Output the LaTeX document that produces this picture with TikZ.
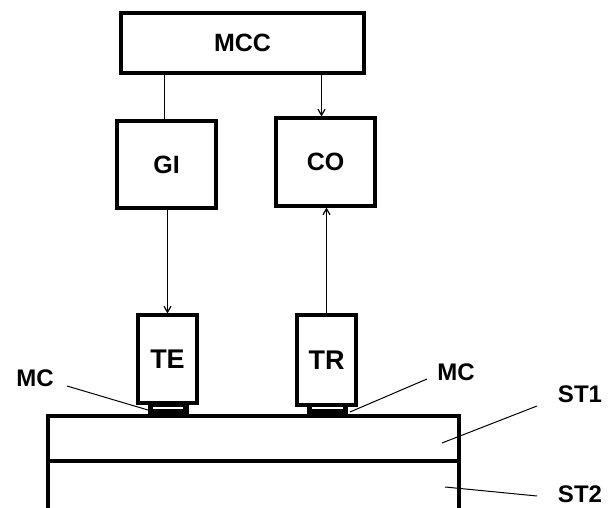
\documentclass[tikz,border=0pt]{standalone}
\usepackage{fontspec}
\setmainfont{Liberation Sans}
\usetikzlibrary{arrows.meta,calc}
\begin{document}
\begin{tikzpicture}[x=1pt,y=-1pt,
  box/.style={draw,line width=3.2pt,inner sep=0pt,font=\fontsize{25}{25}\selectfont\bfseries},
  pad/.style={draw,fill=black,line width=0.5pt,inner sep=0pt,minimum width=40pt,minimum height=12pt},
  conn/.style={line width=1.2pt},
  arr/.style={conn,-{Straight Barb[length=6pt,width=7pt,line width=1.2pt]}},
  lead/.style={line width=1pt},
  lbl/.style={inner sep=0pt,font=\fontsize{24}{24}\selectfont\bfseries},
  wall/.style={line width=3.2pt}]
\useasboundingbox (0,0) rectangle (614,508);
\fill[white] (0,0) rectangle (614,508);
% substrate
\coordinate (S1) at (48,416);
\coordinate (S2) at (459,416);
\coordinate (S3) at (48,508);
\coordinate (S4) at (459,508);
\coordinate (D1) at (48,461);
\coordinate (D2) at (459,461);
\draw[wall,line join=miter] (S3) -- (S1) -- (S2) -- (S4);
\draw[wall] (D1) -- (D2);
% boxes
\node[box,minimum width=243pt,minimum height=60pt] (MCC) at (242.5,43) {MCC};
\node[box,minimum width=99pt,minimum height=87pt] (GI) at (166.5,164.5) {GI};
\node[box,minimum width=99pt,minimum height=88pt] (CO) at (325.5,162) {CO};
\node[box,minimum width=59pt,minimum height=88pt,font=\fontsize{27}{27}\selectfont\bfseries] (TE) at (167.5,359) {TE};
\node[box,minimum width=59pt,minimum height=90pt,font=\fontsize{27}{27}\selectfont\bfseries] (TR) at (326.5,360) {TR};
% pads
\node[pad] (TEpad) at (168,409.5) {};
\node[pad] (TRpad) at (327.5,409.5) {};
\draw[white,line width=1.2pt] ($(TEpad.west)+(5,-1.5)$) -- ($(TEpad.east)+(-5,-1.5)$);
\draw[white,line width=1.2pt] ($(TRpad.west)+(5,-1.5)$) -- ($(TRpad.east)+(-5,-1.5)$);
% connectors
\draw[conn] ($(GI.north |- MCC.south)+(-2,0)$) -- ($(GI.north)+(-2,0)$);
\draw[arr] ($(CO.north |- MCC.south)+(-4,0)$) -- ($(CO.north)+(-4,0)$);
\draw[arr] (TE.north |- GI.south) -- (TE.north);
\draw[arr] (TR.north) -- (TR.north |- CO.south);
% labels
\node[lbl] (MCl) at (35,378) {MC};
\node[lbl] (MCr) at (456,372) {MC};
\node[lbl] (ST1) at (580,394) {ST1};
\node[lbl] (ST2) at (580,494) {ST2};
\coordinate (pMCl) at (148,410);
\coordinate (pMCr) at (350,412);
\coordinate (pST1) at (442,443);
\coordinate (pST2) at (445,487);
\draw[lead] (67,386) -- (pMCl);
\draw[lead] (427,379) -- (pMCr);
\draw[lead] (537,406) -- (pST1);
\draw[lead] (537,496) -- (pST2);
\end{tikzpicture}
\end{document}
